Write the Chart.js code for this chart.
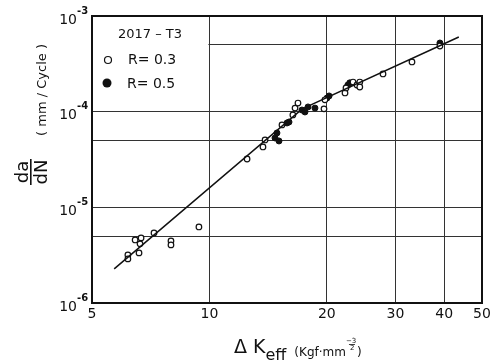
<!DOCTYPE html>
<html>
<head>
<meta charset="utf-8">
<script src="https://cdn.jsdelivr.net/npm/chart.js@4.4.1/dist/chart.umd.min.js"></script>
<style>
  html, body { margin: 0; padding: 0; background: #fff; }
  #wrap { width: 496px; height: 362px; }
</style>
</head>
<body>
<div id="wrap"><canvas id="crack"></canvas></div>
<script>
// delta K eff ticks and grid
const xTicks = [5, 10, 20, 30, 40, 50];
const yGrid = [1e-6, 5e-6, 1e-5, 5e-5, 1e-4, 5e-4, 1e-3];
const yLabels = [1e-3, 1e-4, 1e-5, 1e-6];

// R = 0.3 (open circles)
const r03K = [6.18, 6.18, 6.45, 6.68, 6.64, 6.60, 7.21, 7.97, 7.97, 9.40,
  12.49, 13.72, 13.89, 15.35, 16.37, 16.58, 16.87, 19.67, 19.78,
  22.27, 22.4, 23.35, 23.9, 24.3, 24.3, 27.87, 33.07, 39.0];
const r03Rate = [3.18e-6, 2.89e-6, 4.56e-6, 4.79e-6, 4.15e-6, 3.34e-6, 5.4e-6, 4.46e-6, 4.05e-6, 6.24e-6,
  3.2e-5, 4.28e-5, 5.06e-5, 7.26e-5, 9.24e-5, 1.09e-4, 1.23e-4, 1.07e-4, 1.33e-4,
  1.57e-4, 1.77e-4, 2.04e-4, 1.9e-4, 2.04e-4, 1.81e-4, 2.48e-4, 3.31e-4, 4.86e-4];

// R = 0.5 (filled circles)
const r05K = [14.73, 14.9, 15.08, 15.81, 16.0, 17.27, 17.58, 17.9, 18.65, 20.03, 20.27, 22.65, 22.9, 39.0];
const r05Rate = [5.31e-5, 5.99e-5, 4.94e-5, 7.62e-5, 7.8e-5, 1.04e-4, 9.93e-5, 1.12e-4, 1.09e-4, 1.39e-4, 1.46e-4, 1.9e-4, 2.0e-4, 5.22e-4];

// fitted line (two segments)
const fitK = [5.7, 17.3, 43.6];
const fitRate = [2.27e-6, 1.07e-4, 6.04e-4];

const pts = (xs, ys) => xs.map((x, i) => ({ x: x, y: ys[i] }));
const FONT = '"DejaVu Sans", sans-serif';

const decor = {
  id: 'decor',
  beforeDatasetsDraw(chart) {
    const { ctx, chartArea: a, scales: { x, y } } = chart;
    // blank the legend corner
    ctx.save();
    ctx.fillStyle = '#fff';
    ctx.fillRect(a.left + 1, a.top + 1, x.getPixelForValue(10) - a.left - 2, y.getPixelForValue(1e-4) - a.top - 2);
    ctx.restore();
  },
  afterDraw(chart) {
    const { ctx, chartArea: a, scales: { x, y } } = chart;
    ctx.save();
    ctx.strokeStyle = '#111';
    ctx.lineWidth = 2;
    ctx.strokeRect(a.left, a.top, a.right - a.left, a.bottom - a.top);

    ctx.fillStyle = '#111';
    // y tick labels
    yLabels.forEach(v => {
      const py = y.getPixelForValue(v);
      ctx.font = '14px ' + FONT;
      ctx.textAlign = 'right';
      ctx.textBaseline = 'middle';
      ctx.fillText('10', 77, py + 4);
      ctx.font = 'bold 10px ' + FONT;
      ctx.textAlign = 'left';
      ctx.fillText(String(Math.round(Math.log10(v))), 77, py - 5);
    });
    // x tick labels
    ctx.font = '14px ' + FONT;
    ctx.textAlign = 'center';
    ctx.textBaseline = 'middle';
    xTicks.forEach(v => ctx.fillText(String(v), x.getPixelForValue(v), 314));

    // x title
    ctx.textAlign = 'left';
    ctx.textBaseline = 'alphabetic';
    let cx = 234;
    ctx.font = '19px ' + FONT;
    ctx.fillText('\u0394 K', cx, 353);
    cx += ctx.measureText('\u0394 K').width;
    ctx.font = '16px ' + FONT;
    ctx.fillText('eff', cx, 360);
    cx += ctx.measureText('eff').width + 8;
    ctx.font = '12px ' + FONT;
    ctx.fillText('(Kgf\u00b7mm', cx, 356);
    cx += ctx.measureText('(Kgf\u00b7mm').width;
    ctx.font = '7px ' + FONT;
    ctx.fillText('\u22123', cx, 343);
    ctx.fillText('2', cx + 4, 350);
    ctx.fillRect(cx + 3, 344, 6, 0.8);
    cx += 11;
    ctx.font = '12px ' + FONT;
    ctx.fillText(')', cx, 356);

    // y title: da/dN fraction + units, rotated
    ctx.save();
    ctx.translate(31, 172);
    ctx.rotate(-Math.PI / 2);
    ctx.font = '18px ' + FONT;
    ctx.textAlign = 'center';
    ctx.textBaseline = 'alphabetic';
    ctx.fillText('da', 0, -3);
    ctx.textBaseline = 'top';
    ctx.fillText('dN', 0, 2);
    ctx.fillRect(-13, -1, 26, 1.6);
    ctx.restore();
    ctx.save();
    ctx.translate(43, 90);
    ctx.rotate(-Math.PI / 2);
    ctx.font = '13px ' + FONT;
    ctx.textAlign = 'center';
    ctx.textBaseline = 'middle';
    ctx.fillText('( mm / Cycle )', 0, 0);
    ctx.restore();

    // legend
    ctx.font = '13px ' + FONT;
    ctx.textAlign = 'left';
    ctx.textBaseline = 'middle';
    ctx.fillText('2017 \u2013 T3', 118, 35);
    ctx.font = '14px ' + FONT;
    ctx.fillText('R= 0.3', 128, 60);
    ctx.fillText('R= 0.5', 127, 84);
    ctx.lineWidth = 1.2;
    ctx.beginPath();
    ctx.arc(108, 60, 3.5, 0, Math.PI * 2);
    ctx.stroke();
    ctx.beginPath();
    ctx.arc(107, 83, 4.5, 0, Math.PI * 2);
    ctx.fill();
    ctx.restore();
  }
};

new Chart(document.getElementById('crack'), {
  type: 'scatter',
  data: {
    datasets: [
      {
        label: 'fit',
        data: pts(fitK, fitRate),
        showLine: true,
        borderColor: '#111',
        borderWidth: 1.5,
        pointRadius: 0,
        fill: false
      },
      {
        label: 'R= 0.3',
        data: pts(r03K, r03Rate),
        pointStyle: 'circle',
        pointRadius: 2.8,
        pointBorderWidth: 1.2,
        pointBorderColor: '#111',
        pointBackgroundColor: '#fff'
      },
      {
        label: 'R= 0.5',
        data: pts(r05K, r05Rate),
        pointStyle: 'circle',
        pointRadius: 3,
        pointBorderWidth: 1,
        pointBorderColor: '#111',
        pointBackgroundColor: '#111'
      }
    ]
  },
  options: {
    responsive: true,
    maintainAspectRatio: false,
    animation: false,
    layout: { padding: { left: 92, right: 14, top: 16, bottom: 59 } },
    plugins: { legend: { display: false }, tooltip: { enabled: false } },
    scales: {
      x: {
        type: 'logarithmic',
        min: 5,
        max: 50,
        afterBuildTicks: s => { s.ticks = xTicks.map(v => ({ value: v })); },
        ticks: { display: false },
        border: { display: false },
        grid: { color: '#333', lineWidth: 1, drawTicks: false }
      },
      y: {
        type: 'logarithmic',
        min: 1e-6,
        max: 1e-3,
        afterBuildTicks: s => { s.ticks = yGrid.map(v => ({ value: v })); },
        ticks: { display: false },
        border: { display: false },
        grid: { color: '#333', lineWidth: 1, drawTicks: false }
      }
    }
  },
  plugins: [decor]
});
</script>
</body>
</html>
